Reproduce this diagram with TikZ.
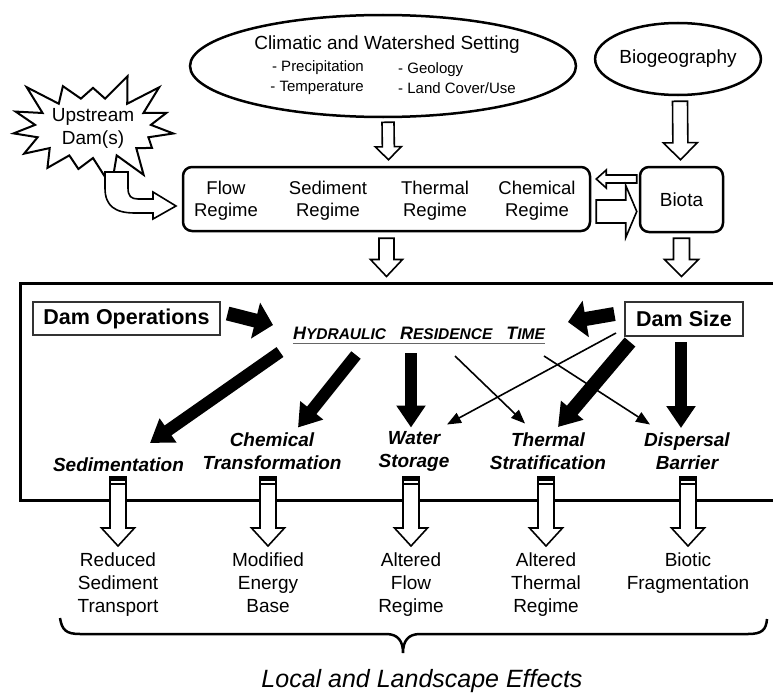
\documentclass[tikz,border=0pt]{standalone}
\usepackage{fontspec}
\setmainfont{Liberation Sans}
\usetikzlibrary{arrows.meta,calc,shapes.geometric,shapes.symbols}

% hollow block arrow: #1 options, #2 from, #3 to, #4 shaft half width, #5 head half width, #6 head length
\newcommand\hollowarrow[6][]{%
  \path (#2) coordinate (ha) (#3) coordinate (hb);
  \path ($(hb)!#6!(ha)$) coordinate (hc);
  \draw[hollow,#1] ($(ha)!#4!90:(hb)$) -- ($(hc)!#4!90:(hb)$) -- ($(hc)!#5!90:(hb)$) -- (hb)
     -- ($(hc)!#5!-90:(hb)$) -- ($(hc)!#4!-90:(hb)$) -- ($(ha)!#4!-90:(hb)$) -- cycle;}

% downward hollow arrow with striped cap: #1 effect node
\newcommand\plugarrow[1]{%
  \hollowarrow{#1.north |- 0,477}{$(#1.north)+(0,-7)$}{8pt}{16.5pt}{18pt}
  \fill ($(ha)+(-8,0)$) rectangle ($(ha)+(8,3.5)$);
  \draw[line width=1.2pt] ($(ha)+(-8,7)$) -- ($(ha)+(8,7)$);}

\newcommand\smc[2]{{\fontsize{18pt}{20pt}\selectfont #1}{\fontsize{15.5pt}{20pt}\selectfont #2}}

\begin{document}
\begin{tikzpicture}[x=1pt,y=-1pt,
  hollow/.style={draw, fill=white, line width=1.6pt, line join=miter},
  fat/.style={line width=12pt, -{Triangle[length=22pt,width=28pt]}},
  fatin/.style={line width=14pt, -{Triangle[length=18pt,width=36pt]}},
  thinarr/.style={line width=1.6pt, -{Triangle[length=14pt,width=11pt]}},
  lab/.style={font=\fontsize{19pt}{23pt}\selectfont\bfseries\itshape, align=center, inner sep=0pt},
  eff/.style={font=\fontsize{19pt}{23pt}\selectfont, align=center, inner sep=0pt, anchor=north},
  rl/.style={font=\fontsize{18.5pt}{22pt}\selectfont, align=center, inner sep=0pt},
  rbox/.style={draw, rounded corners=9pt, line width=2.5pt, inner sep=0pt},
  sbox/.style={draw=black!80, line width=1.2pt, inner sep=0pt, font=\fontsize{21.5pt}{26pt}\selectfont\bfseries},
]
\useasboundingbox (0,0) rectangle (773,693);
\fill[white] (0,0) rectangle (773,693);

% top row
\node[ellipse, draw, line width=2.5pt, minimum width=386pt, minimum height=102pt, inner sep=0pt] (clim) at (383,66) {};
\node[inner sep=0pt, font=\fontsize{19pt}{23pt}\selectfont] (climt) at (387,45) {Climatic and Watershed Setting};
\node[anchor=east, inner sep=0pt, align=right, font=\fontsize{15pt}{20pt}\selectfont] (climl) at (364,78) {- Precipitation\\- Temperature};
\node[anchor=west, inner sep=0pt, align=left, font=\fontsize{15pt}{20pt}\selectfont] (climr) at (398,78) {- Geology\\- Land Cover/Use};

\node[ellipse, draw, line width=2.5pt, minimum width=162pt, minimum height=72pt, inner sep=0pt, font=\fontsize{19pt}{23pt}\selectfont] (bio) at (678,59) {Biogeography};

\node[starburst, draw, line width=2pt, minimum width=172pt, minimum height=124pt, starburst points=15, starburst point height=32pt, random starburst=3, align=center, inner sep=0pt, font=\fontsize{19pt}{23pt}\selectfont] (up) at (93,128) {Upstream\\Dam(s)};

% regime box
\node[rbox, minimum width=407pt, minimum height=64pt] (reg) at (386.5,199) {};
\node[rl] (flow) at (226,201) {Flow\\Regime};
\node[rl] (sedr) at (328,201) {Sediment\\Regime};
\node[rl] (therr) at (435,201) {Thermal\\Regime};
\node[rl] (chemr) at (537,201) {Chemical\\Regime};
\node[rbox, minimum width=83pt, minimum height=65pt, font=\fontsize{19pt}{23pt}\selectfont] (biota) at (681.5,199.5) {Biota};

% main box
\node[draw, line width=3pt, minimum width=756pt, minimum height=217pt, inner sep=0pt] (main) at (398,391.5) {};
\node[sbox, minimum width=187pt, minimum height=33pt] (dop) at (126.5,318.5) {Dam Operations};
\node[sbox, minimum width=118pt, minimum height=34pt] (dsz) at (684,319) {Dam Size};
\node[inner sep=0pt, font=\bfseries\itshape] (hrt) at (419,333) {\smc{H}{YDRAULIC}\hspace{14pt}\smc{R}{ESIDENCE}\hspace{14pt}\smc{T}{IME}};
\draw[line width=1.2pt, black!60] ([yshift=-4pt]hrt.base west) -- ([yshift=-4pt]hrt.base east);

\node[lab] (sed) at (118.5,465) {Sedimentation};
\node[lab] (chem) at (272,451.5) {Chemical\\Transformation};
\node[lab] (ws) at (414,451.5) {Water\\Storage};
\node[lab] (ts) at (548,451.5) {Thermal\\Stratification};
\node[lab] (db) at (687,451.5) {Dispersal\\Barrier};

% effects
\node[eff] (e1) at (118,553) {Reduced\\Sediment\\Transport};
\node[eff] (e2) at (268,553) {Modified\\Energy\\Base};
\node[eff] (e3) at (411,553) {Altered\\Flow\\Regime};
\node[eff] (e4) at (546,553) {Altered\\Thermal\\Regime};
\node[eff] (e5) at (688,553) {Biotic\\Fragmentation};

\node[inner sep=0pt, font=\fontsize{25pt}{30pt}\selectfont\itshape] (loc) at (422,681) {Local and Landscape Effects};

% hollow arrows, top part
\hollowarrow{$(clim.south)+(5,4)$}{$(reg.north)+(2,-6)$}{6pt}{13pt}{13pt}
\hollowarrow{$(bio.south)+(2,5)$}{$(biota.north)+(-1,-6)$}{7.5pt}{17pt}{17pt}
\hollowarrow{$(reg.south)+(0,6)$}{$(reg.south |- main.north)+(0,-5)$}{7.5pt}{16pt}{17pt}
\hollowarrow{$(biota.south)+(0,5)$}{$(biota.south |- main.north)+(0,-5)$}{8pt}{17pt}{17pt}
\hollowarrow{$(biota.west |- 0,179)+(-2,0)$}{$(reg.east |- 0,179)+(5,0)$}{4pt}{9pt}{10pt}
\hollowarrow{$(reg.east |- 0,211.5)+(5,0)$}{$(biota.west |- 0,211.5)+(-2,0)$}{11.5pt}{26pt}{11pt}

% bent arrow from upstream dams
\draw[hollow] (105,172) -- (105,188) .. controls (105,206) and (115,213) .. (135,213) -- (153,213)
  -- (153,219) -- (176,206) -- (153,192) -- (153,199) -- (138,199)
  .. controls (131,199) and (128,196) .. (128,188) -- (128,172) -- cycle;

% fat arrows
\draw[fatin] ($(dop.east)+(7,-5)$) -- ($(hrt)+(-146,-8)$);
\draw[fatin] ($(dsz.west)+(-10,-5)$) -- ($(hrt)+(149,-11)$);
\draw[fat] ($(hrt)+(-139,19)$) -- ($(sed)+(31.5,-22)$);
\draw[fat] ($(hrt)+(-63,22)$) -- ($(chem)+(26,-24)$);
\draw[fat] ($(hrt)+(-8,20)$) -- ($(ws)+(-3,-24)$);
\draw[fat, line width=14pt] ($(dsz)+(-54,23)$) -- ($(ts)+(10,-24.5)$);
\draw[fat] ($(dsz)+(-3,23)$) -- ($(db)+(-6,-23.5)$);

% thin arrows
\draw[thinarr] ($(dsz)+(-68,14)$) -- ($(ws)+(33,-27)$);
\draw[thinarr] ($(hrt)+(36,23)$) -- ($(ts)+(-23,-28)$);
\draw[thinarr] ($(hrt)+(125,23)$) -- ($(db)+(-37,-27)$);

% bottom arrows
\plugarrow{e1}
\plugarrow{e2}
\plugarrow{e3}
\plugarrow{e4}
\plugarrow{e5}

% brace
\draw[line width=2.5pt] (60,618) .. controls (62,630) and (66,634) .. (80,634) -- (386,634)
  .. controls (398,634) and (403,641) .. (403,653) .. controls (403,641) and (408,634) .. (420,634)
  -- (748,634) .. controls (762,634) and (766,630) .. (767,619);
\end{tikzpicture}
\end{document}
